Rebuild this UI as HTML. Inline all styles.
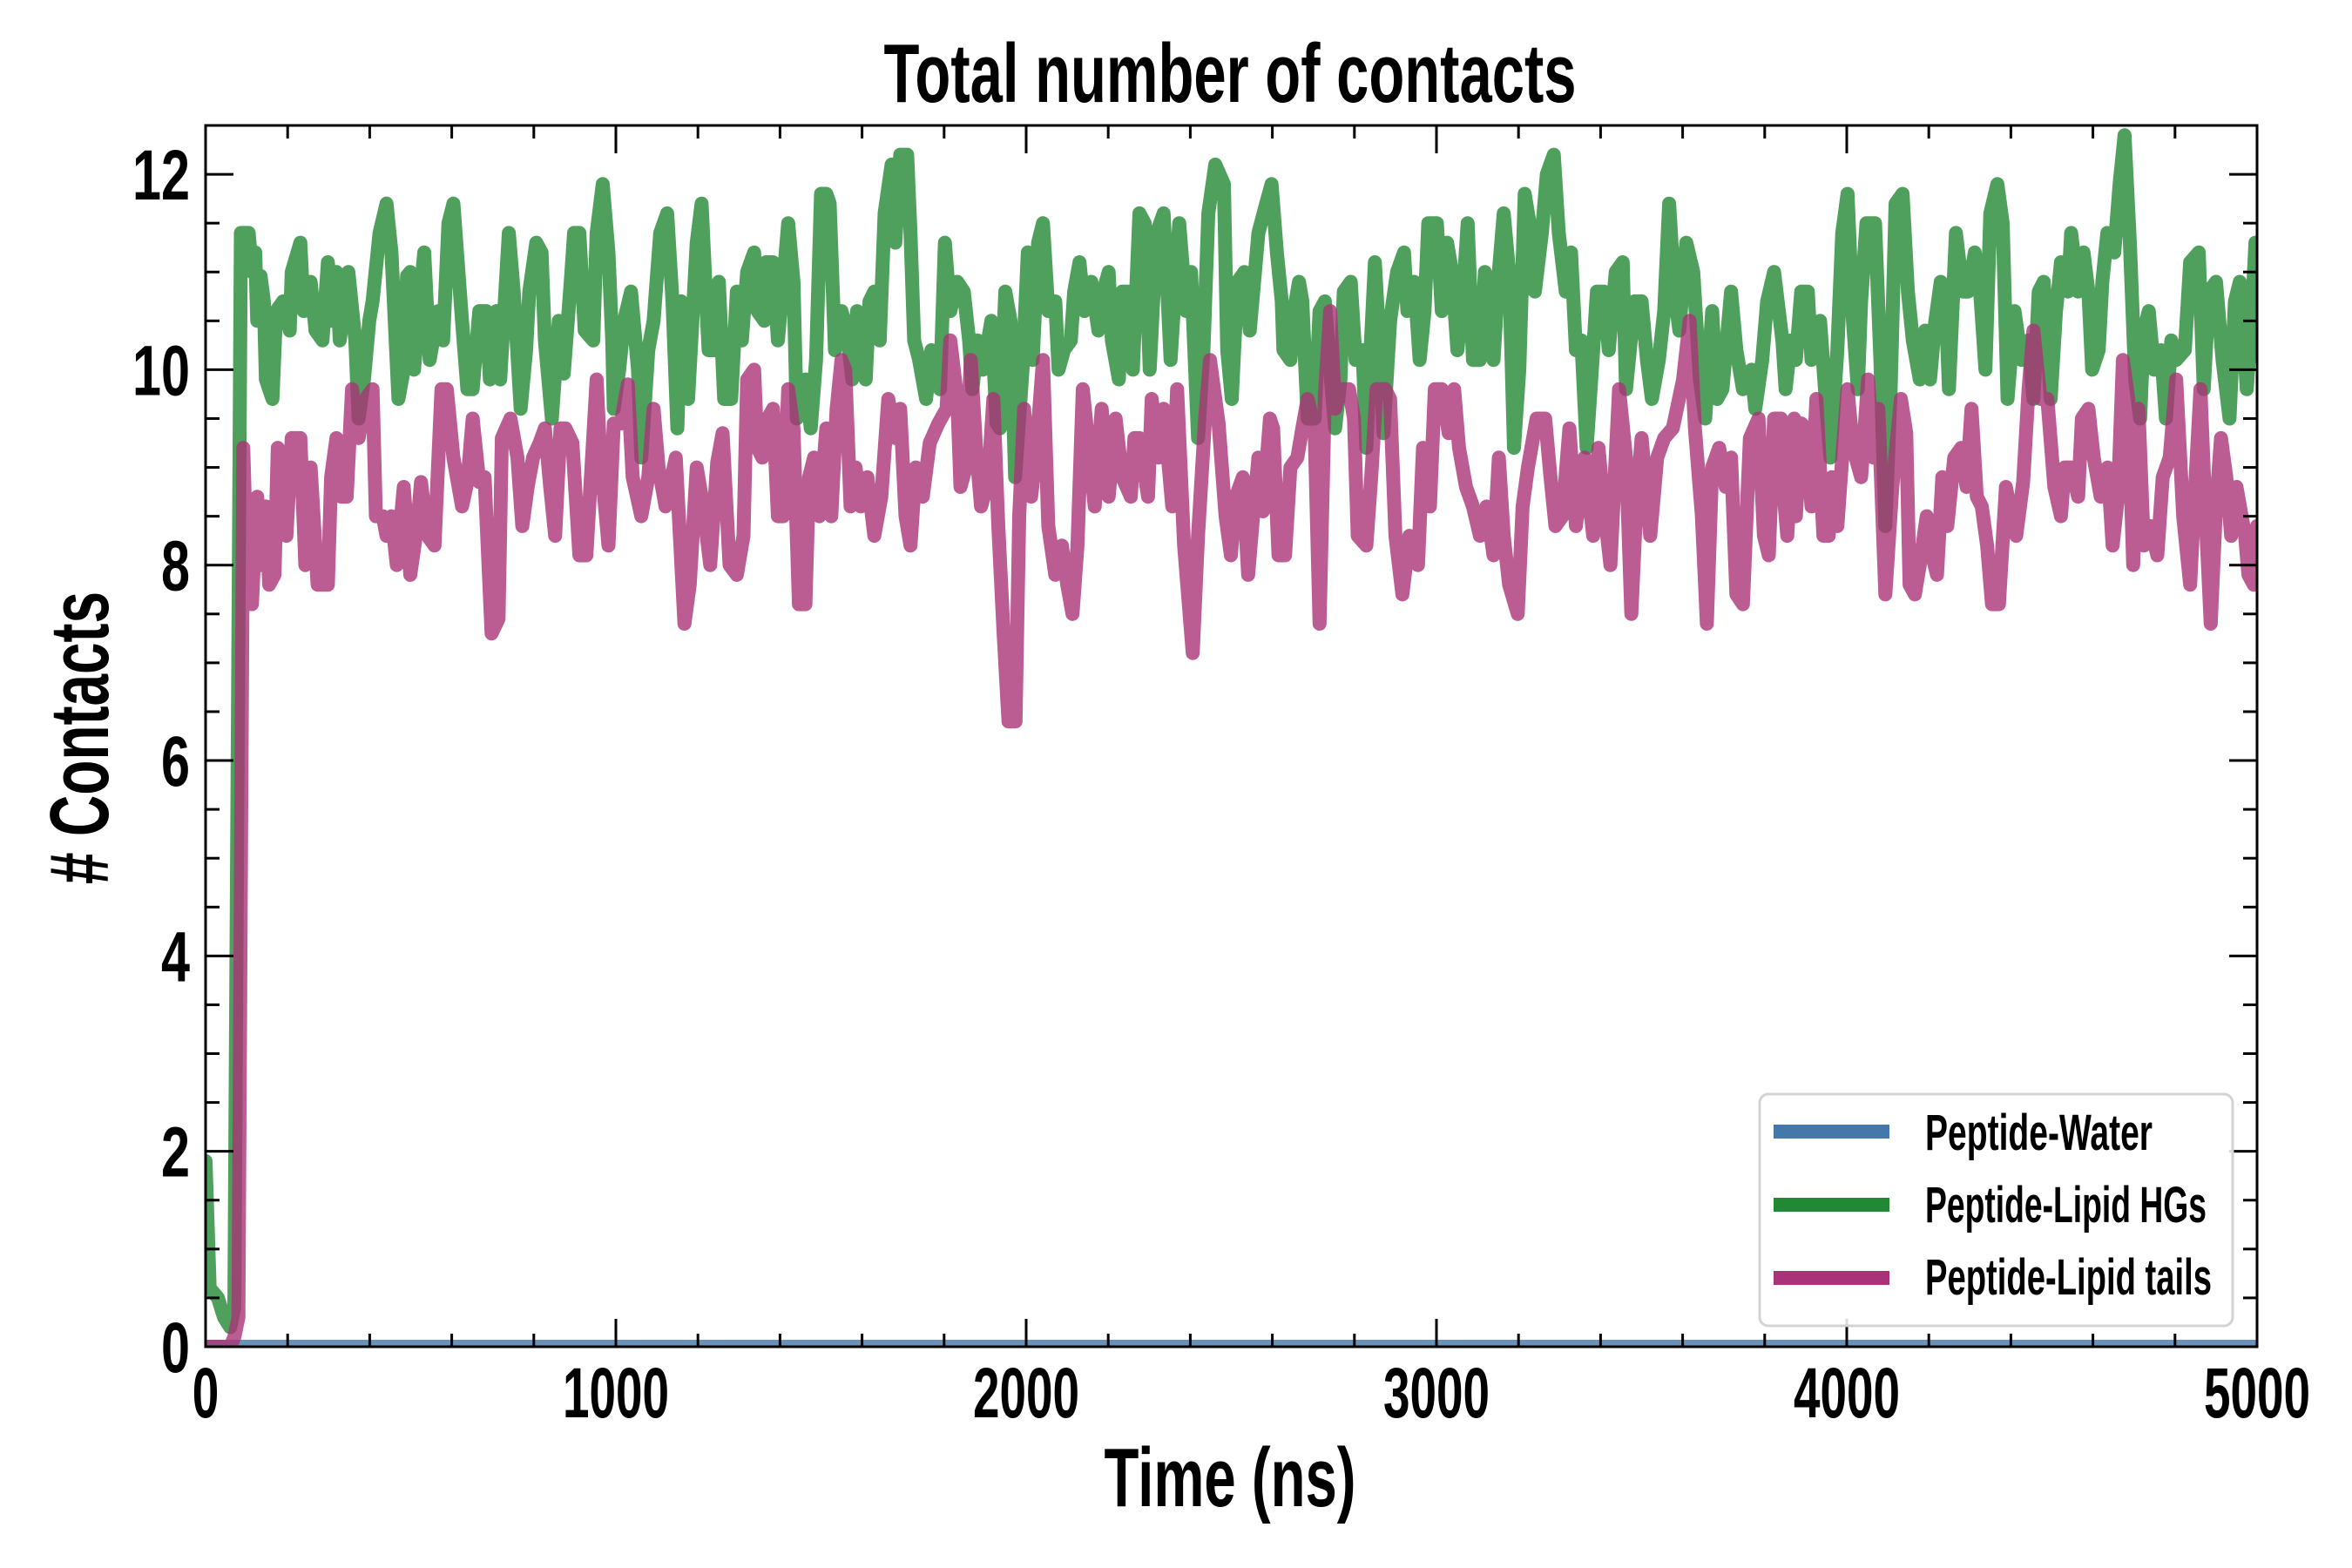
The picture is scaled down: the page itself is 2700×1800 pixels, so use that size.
<!DOCTYPE html>
<html><head><meta charset="utf-8"><title>Total number of contacts</title>
<style>
html,body{margin:0;padding:0;background:#fff;}
svg{display:block;}
text{font-family:"Liberation Sans Narrow","Liberation Sans",sans-serif;font-weight:bold;fill:#000;}
</style></head>
<body>
<svg id="chart" width="2700" height="1800" viewBox="0 0 2700 1800" xmlns="http://www.w3.org/2000/svg">
<defs><clipPath id="plotclip"><rect x="236" y="144" width="2355" height="1402"/></clipPath></defs>
<rect x="0" y="0" width="2700" height="1800" fill="#fff"/>
<text x="1412" y="117" text-anchor="middle" font-size="96" textLength="795" lengthAdjust="spacingAndGlyphs">Total number of contacts</text>
<g id="series" clip-path="url(#plotclip)"></g>
<g id="ticks"></g>
<rect x="236" y="144" width="2355" height="1402" fill="none" stroke="#000" stroke-width="3"/>
<text x="1412" y="1729" text-anchor="middle" font-size="96" textLength="289" lengthAdjust="spacingAndGlyphs">Time (ns)</text>
<text transform="translate(124,847) rotate(-90)" text-anchor="middle" font-size="96" textLength="336" lengthAdjust="spacingAndGlyphs"># Contacts</text>
<g>
<rect x="2020" y="1256" width="543" height="266" rx="10" fill="#fff" fill-opacity="0.85" stroke="#d3d3d3" stroke-width="3"/>
<g>
<line x1="2036" y1="1299" x2="2169" y2="1299" stroke="#4477aa" stroke-width="16"/>
<text x="2210" y="1320" font-size="58" textLength="261" lengthAdjust="spacingAndGlyphs">Peptide-Water</text></g>
<g>
<line x1="2036" y1="1383" x2="2169" y2="1383" stroke="#228833" stroke-width="16"/>
<text x="2210" y="1403" font-size="58" textLength="323" lengthAdjust="spacingAndGlyphs">Peptide-Lipid HGs</text></g>
<g>
<line x1="2036" y1="1467" x2="2169" y2="1467" stroke="#aa3377" stroke-width="16"/>
<text x="2210" y="1486" font-size="58" textLength="329" lengthAdjust="spacingAndGlyphs">Peptide-Lipid tails</text></g>
</g>
</svg>
<script>
const xTicks = [0, 1000, 2000, 3000, 4000, 5000];
const xTickLabels = ["0", "1000", "2000", "3000", "4000", "5000"];
const yTicks = [0, 2, 4, 6, 8, 10, 12];
const yTickLabels = ["0", "2", "4", "6", "8", "10", "12"];
const waterTimes = [0, 5000];
const waterValues = [0, 0];
const hgTimes = [0,10,30,45,60,70,86,105,113,121,126,134,142,147,163,172,189,205,210,231,239,256,268,285,298,306,319,327,348,365,373,386,399,407,424,441,453,470,483,491,499,508,520,533,546,567,579,592,604,625,638,651,667,684,693,709,718,739,751,768,781,789,806,819,827,844,861,873,890,898,911,924,945,953,968,982,991,995,1008,1020,1037,1054,1062,1079,1092,1108,1125,1138,1150,1159,1176,1197,1209,1226,1239,1251,1264,1281,1295,1307,1320,1337,1345,1362,1366,1383,1395,1408,1420,1433,1441,1462,1475,1488,1500,1513,1521,1534,1550,1563,1576,1588,1601,1609,1618,1630,1643,1655,1672,1681,1693,1710,1718,1727,1739,1756,1769,1790,1802,1815,1832,1848,1861,1869,1882,1895,1907,1915,1928,1936,1949,1962,1973,1991,2004,2016,2029,2041,2054,2071,2079,2092,2109,2117,2130,2142,2159,2176,2188,2201,2209,2226,2234,2247,2260,2276,2289,2301,2318,2335,2352,2373,2390,2402,2419,2432,2444,2461,2482,2490,2501,2515,2532,2545,2566,2585,2598,2611,2623,2627,2644,2657,2665,2673,2686,2703,2715,2728,2741,2753,2766,2774,2791,2803,2820,2829,2837,2850,2862,2871,2887,2904,2921,2929,2946,2959,2971,2980,3001,3013,3026,3038,3051,3064,3076,3089,3106,3118,3131,3139,3152,3164,3177,3189,3202,3215,3227,3240,3257,3269,3286,3298,3315,3328,3340,3353,3366,3382,3391,3408,3420,3437,3454,3462,3483,3500,3513,3525,3542,3555,3567,3580,3592,3609,3626,3642,3655,3672,3684,3697,3718,3731,3747,3768,3777,3794,3806,3823,3843,3851,3864,3876,3889,3905,3914,3935,3947,3960,3977,3989,4002,4015,4027,4035,4048,4069,4082,4094,4107,4119,4136,4149,4161,4178,4191,4203,4216,4229,4241,4249,4266,4283,4296,4312,4325,4338,4350,4367,4380,4392,4409,4426,4443,4455,4468,4480,4497,4510,4522,4539,4547,4564,4577,4589,4598,4614,4623,4635,4652,4665,4677,4690,4703,4715,4724,4736,4749,4766,4778,4791,4803,4824,4837,4858,4870,4883,4900,4916,4933,4946,4958,4975,4988,4996,5000];
const hgValues = [1.9,0.6,0.5,0.3,0.2,0.4,11.4,11.4,11.0,11.2,10.5,10.96,10.7,9.9,9.7,10.6,10.7,10.4,11.0,11.3,10.6,10.9,10.4,10.3,11.1,10.5,11.0,10.3,11.0,10.3,9.5,9.9,10.5,10.7,11.4,11.7,11.2,9.7,10.0,10.96,11.0,10.0,10.6,11.2,10.1,10.6,10.3,11.5,11.7,10.5,9.8,9.8,10.6,10.6,9.9,10.6,9.9,11.4,10.8,9.6,10.2,10.8,11.3,11.2,10.3,9.5,10.5,9.96,10.9,11.4,11.4,10.4,10.3,11.4,11.9,11.2,10.3,9.6,10.0,10.5,10.8,10.0,9.1,10.2,10.5,11.4,11.6,10.7,9.4,10.7,9.7,11.3,11.7,10.2,10.2,10.9,9.7,9.7,10.8,10.3,11.0,11.2,10.6,10.5,11.1,11.1,10.3,10.9,11.5,10.9,9.5,9.9,9.4,10.1,11.8,11.8,11.7,10.2,10.6,10.4,9.9,10.6,10.0,9.9,10.7,10.8,10.3,11.6,12.1,11.3,12.2,12.2,11.4,10.3,10.1,9.7,10.2,9.8,11.3,10.6,10.9,10.8,10.3,9.8,10.3,10.0,10.3,10.5,9.45,9.4,10.8,10.5,8.9,10.0,11.2,10.1,11.3,11.5,10.6,10.7,10.0,10.2,10.3,10.8,11.1,10.6,10.9,10.4,10.8,11.0,10.3,9.9,10.8,10.8,10.0,11.6,11.5,10.0,11.4,11.6,10.1,11.5,10.6,11.0,9.3,10.2,11.6,12.1,11.9,10.2,9.7,10.9,11.0,10.4,11.4,11.7,11.9,11.2,10.7,10.2,10.1,10.7,10.9,10.7,9.5,9.5,10.6,10.7,10.0,9.4,9.9,10.8,10.9,10.1,10.2,9.2,10.0,11.1,10.2,9.35,10.5,11.0,11.2,10.6,10.9,10.1,10.6,11.5,11.5,10.6,11.3,11.0,10.2,10.7,11.5,10.1,10.1,11.0,10.6,10.1,11.0,11.6,11.0,9.2,10.0,11.8,11.5,10.8,11.4,12.0,12.2,11.4,10.8,11.2,10.2,10.3,9.2,10.2,10.8,10.8,10.2,11.0,11.1,9.8,10.7,10.7,10.1,9.7,10.1,10.6,11.7,10.8,10.4,11.3,11.0,9.9,9.5,10.6,9.7,9.8,10.8,10.2,9.8,10.0,9.6,10.1,10.7,11.0,10.3,9.8,10.3,10.1,10.8,10.8,10.1,10.5,9.8,9.1,10.2,11.4,11.8,10.5,9.8,10.7,11.5,11.5,10.1,8.4,9.8,11.7,11.8,10.8,10.3,9.9,10.4,9.9,10.5,10.9,10.7,9.8,11.4,10.8,10.8,11.2,10.8,10.0,11.6,11.9,11.5,9.7,10.6,10.1,10.3,9.7,10.8,10.9,9.7,10.6,11.1,10.8,11.4,10.8,11.2,10.8,10.0,10.2,10.9,11.4,11.2,11.9,12.4,11.3,9.9,9.5,10.4,10.6,10.0,10.2,9.5,10.3,10.1,10.2,11.1,11.2,9.8,10.8,10.9,10.1,9.5,10.7,10.9,9.8,10.6,11.3,10.4];
const tailTimes = [0,60,70,80,92,100,113,126,134,147,155,168,176,184,197,210,231,243,256,273,298,306,319,331,344,357,373,390,407,415,432,441,453,466,483,499,516,525,541,558,575,588,604,625,638,651,667,680,697,714,722,743,760,772,785,798,814,827,840,852,865,877,894,911,928,953,961,982,995,1012,1029,1041,1062,1079,1092,1104,1121,1146,1167,1180,1197,1213,1230,1247,1260,1277,1295,1311,1320,1337,1345,1357,1370,1383,1395,1408,1420,1433,1446,1462,1471,1483,1496,1513,1525,1538,1550,1559,1572,1584,1597,1613,1630,1647,1664,1681,1693,1706,1718,1731,1748,1765,1786,1806,1815,1832,1840,1853,1865,1878,1890,1907,1920,1932,1945,1957,1974,1983,1995,2012,2025,2041,2054,2071,2087,2100,2113,2125,2138,2155,2167,2184,2201,2218,2234,2255,2264,2276,2297,2306,2322,2335,2356,2368,2385,2406,2419,2436,2448,2469,2486,2499,2511,2528,2541,2553,2566,2577,2594,2602,2615,2631,2644,2661,2673,2686,2703,2715,2728,2741,2753,2766,2787,2799,2808,2829,2841,2854,2875,2887,2900,2917,2934,2955,2967,2984,2996,3013,3030,3043,3055,3072,3089,3106,3122,3139,3152,3164,3177,3198,3210,3223,3244,3265,3278,3290,3307,3324,3340,3361,3382,3395,3408,3424,3445,3462,3475,3487,3500,3521,3538,3555,3576,3601,3617,3630,3647,3659,3672,3689,3705,3718,3731,3747,3764,3785,3798,3810,3823,3840,3847,3855,3872,3876,3889,3901,3914,3926,3943,3956,3964,3977,3989,4002,4015,4035,4052,4065,4077,4094,4111,4132,4145,4153,4166,4178,4195,4208,4220,4233,4245,4262,4279,4292,4304,4317,4329,4342,4354,4371,4388,4401,4413,4430,4443,4455,4472,4489,4506,4522,4531,4547,4564,4573,4589,4602,4619,4636,4648,4661,4673,4686,4698,4711,4724,4740,4757,4770,4787,4803,4820,4837,4849,4862,4874,4887,4900,4912,4925,4937,4950,4971,4979,4992,5000];
const tailValues = [0,0,0.1,0.3,9.2,8.0,7.6,8.7,8.0,8.6,7.8,7.9,9.2,8.4,8.3,9.3,9.3,8.0,9.0,7.8,7.8,8.9,9.3,8.7,8.7,9.8,9.3,9.7,9.8,8.5,8.5,8.3,8.5,8.0,8.8,7.9,8.4,8.85,8.3,8.2,9.8,9.8,9.1,8.6,8.85,9.5,8.85,8.9,7.3,7.45,9.3,9.5,9.1,8.4,8.8,9.1,9.25,9.4,8.8,8.3,9.4,9.4,9.25,8.1,8.1,9.9,9.2,8.2,9.45,9.45,9.85,8.9,8.5,8.9,9.6,9.0,8.6,9.1,7.4,7.8,9.0,8.6,8.0,9.05,9.35,8.0,7.9,8.3,9.9,10.0,9.2,9.1,9.5,9.6,8.5,8.5,9.8,9.4,7.6,7.6,8.9,9.1,8.5,9.4,8.5,9.6,10.1,10.0,8.6,9.0,8.6,8.9,8.3,8.7,9.7,9.3,9.6,8.5,8.2,9.0,8.7,9.25,9.45,9.6,10.3,9.7,8.8,9.0,10.1,9.2,8.6,8.85,9.7,8.4,7.3,6.4,6.4,8.5,9.6,8.7,9.2,10.1,8.4,7.9,8.2,7.8,7.5,8.2,9.8,9.1,8.6,9.6,8.7,9.5,8.9,8.7,9.3,9.3,8.7,9.7,9.1,9.6,8.6,9.8,8.2,7.1,8.3,9.5,10.1,9.45,8.5,8.1,8.7,8.9,7.9,8.5,9.1,8.55,9.5,9.4,8.1,8.1,9.0,9.1,9.4,9.7,9.4,7.4,9.75,10.6,9.6,9.8,9.8,9.5,8.3,8.2,8.9,9.8,9.8,9.7,8.3,7.7,8.3,8.0,9.2,8.6,9.8,9.8,9.35,9.8,9.2,8.8,8.6,8.3,8.6,8.1,9.1,8.3,7.8,7.5,8.6,9.0,9.5,9.5,8.9,8.4,8.5,9.4,8.4,9.1,8.3,9.2,8.6,8.0,9.8,9.1,7.5,8.6,9.3,8.3,9.1,9.3,9.4,9.9,10.5,9.4,8.5,7.4,9.0,9.2,8.8,9.1,7.7,7.6,9.3,9.5,8.3,8.1,9.5,9.5,8.7,8.3,9.5,8.5,9.45,9.4,8.6,9.7,8.3,8.3,8.9,8.4,9.1,9.8,9.2,8.9,9.9,9.1,9.6,7.7,8.8,9.7,9.35,7.8,7.7,8.0,8.5,8.1,7.9,8.9,8.4,9.1,9.2,8.8,9.6,8.7,8.6,8.2,7.6,7.6,8.8,8.5,8.3,8.85,9.8,10.4,9.7,9.7,8.8,8.5,9.0,9.0,8.7,9.5,9.6,9.1,8.7,9.0,8.2,8.7,10.1,9.7,8.0,9.6,8.2,8.4,8.1,8.9,9.1,9.9,8.5,7.8,8.8,9.8,8.55,7.4,8.6,9.3,8.9,8.3,8.8,8.3,7.9,7.8,8.4];

const NS = 'http://www.w3.org/2000/svg';
const PL = 236, PR = 2591, PT = 144, PB = 1546;
const XMIN = 0, XMAX = 5000, YMIN = 0, YMAX = 12.5;
function xScale(v){ return PL + (v - XMIN) / (XMAX - XMIN) * (PR - PL); }
function yScale(v){ return PB - (v - YMIN) / (YMAX - YMIN) * (PB - PT); }

const seriesLayer = document.getElementById('series');
function drawSeries(times, values, color, name){
  let d = '';
  for (let i = 0; i < times.length; i++){
    d += (i ? 'L' : 'M') + xScale(times[i]).toFixed(1) + ' ' + yScale(values[i]).toFixed(1);
  }
  const p = document.createElementNS(NS, 'path');
  p.setAttribute('d', d);
  p.setAttribute('fill', 'none');
  p.setAttribute('stroke', color);
  p.setAttribute('stroke-width', '16');
  p.setAttribute('stroke-opacity', '0.8');
  p.setAttribute('stroke-linejoin', 'round');
  p.setAttribute('stroke-linecap', 'round');
  
  
  seriesLayer.appendChild(p);
}
drawSeries(waterTimes, waterValues, '#4477aa', 'peptide-water-line');
drawSeries(hgTimes, hgValues, '#228833', 'peptide-lipid-hgs-line');
drawSeries(tailTimes, tailValues, '#aa3377', 'peptide-lipid-tails-line');

const tickLayer = document.getElementById('ticks');
function addLine(x1, y1, x2, y2, w, name){
  const l = document.createElementNS(NS, 'line');
  l.setAttribute('x1', x1); l.setAttribute('y1', y1);
  l.setAttribute('x2', x2); l.setAttribute('y2', y2);
  l.setAttribute('stroke', '#000'); l.setAttribute('stroke-width', w);
  
  
  tickLayer.appendChild(l);
}
function addText(x, y, s, anchor, len, name){
  const t = document.createElementNS(NS, 'text');
  t.setAttribute('x', x); t.setAttribute('y', y);
  t.setAttribute('text-anchor', anchor);
  t.setAttribute('font-size', '82');
  t.setAttribute('textLength', len);
  t.setAttribute('lengthAdjust', 'spacingAndGlyphs');
  t.textContent = s;
  
  
  tickLayer.appendChild(t);
}
for (let v = 0; v <= XMAX; v += 200){
  const x = xScale(v);
  const major = v % 1000 === 0;
  const L = major ? 32 : 15;
  addLine(x, PB, x, PB - L, 3, 'x-tick');
  addLine(x, PT, x, PT + L, 3, 'x-tick-top');
}
for (let v = 0; v <= YMAX; v += 0.5){
  const y = yScale(v);
  const major = Math.abs(v % 2) < 1e-9;
  const L = major ? 32 : 16;
  addLine(PL, y, PL + L, y, 3, 'y-tick');
  addLine(PR, y, PR - L, y, 3, 'y-tick-right');
}
xTicks.forEach((v, i) => {
  const s = xTickLabels[i];
  addText(xScale(v), 1627, s, 'middle', s.length * 30.5, 'x-tick-label');
});
yTicks.forEach((v, i) => {
  const s = yTickLabels[i];
  addText(218, yScale(v) + 29, s, 'end', s.length * 33, 'y-tick-label');
});
</script>
</body></html>
